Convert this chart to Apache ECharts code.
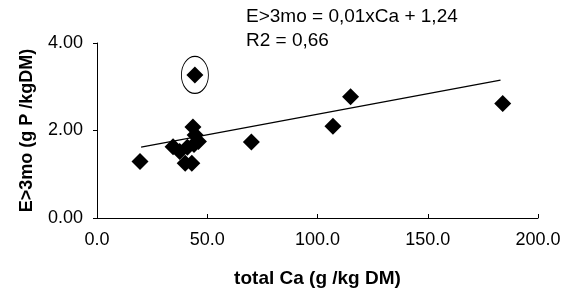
<!DOCTYPE html>
<html>
<head>
<meta charset="utf-8">
<script src="https://cdn.jsdelivr.net/npm/echarts@6/dist/echarts.min.js"></script>
<style>
  html, body { margin: 0; padding: 0; background: #fff; }
  #main { width: 564px; height: 293px; }
</style>
</head>
<body>
<div id="main"></div>
<script>
// total Ca (g/kg DM) vs E>3mo (g P/kg DM)
var caValues = [19.5, 34.5, 37.5, 40.0, 43.0, 41.0, 44.0, 46.0, 43.5, 44.5, 44.4, 70.0, 107.0, 115.0, 184.0];
var eValues  = [1.29, 1.63, 1.52, 1.25, 1.25, 1.62, 1.68, 1.75, 2.08, 1.90, 3.27, 1.74, 2.10, 2.77, 2.62];
// trend line end points
var trendX = [20, 183];
var trendY = [1.62, 3.15];
// outlier circled in the figure
var outlier = [44.4, 3.27];
var xTicks = [0, 50, 100, 150, 200];
var yTicks = [0, 2, 4];

var myChart = echarts.init(document.getElementById('main'));

var points = caValues.map(function (x, i) { return [x, eValues[i]]; });
var trend = trendX.map(function (x, i) { return [x, trendY[i]]; });

var font = 'Liberation Sans, Arial, sans-serif';

var option = {
    backgroundColor: '#ffffff',
    animation: false,
    grid: { left: 97, right: 26, top: 43, bottom: 75, outerBoundsMode: 'none' },
    graphic: [
        {
            type: 'text', left: 246, top: 7,
            style: { text: 'E>3mo = 0,01xCa + 1,24', font: '19px ' + font, fill: '#000' }
        },
        {
            type: 'text', left: 246, top: 31,
            style: { text: 'R2 = 0,66', font: '19px ' + font, fill: '#000' }
        }
    ],
    xAxis: {
        type: 'value',
        min: xTicks[0],
        max: xTicks[xTicks.length - 1],
        interval: 50,
        name: 'total Ca (g /kg DM)',
        nameLocation: 'middle',
        nameGap: 51,
        nameTextStyle: { fontFamily: font, fontWeight: 'bold', fontSize: 19, color: '#000' },
        axisLine: { lineStyle: { color: '#000', width: 1 } },
        axisTick: { inside: true, length: 4, lineStyle: { color: '#000' } },
        splitLine: { show: false },
        axisLabel: {
            fontFamily: font, fontSize: 18, color: '#000', margin: 13,
            formatter: function (v) { return v.toFixed(1); }
        }
    },
    yAxis: {
        type: 'value',
        min: yTicks[0],
        max: yTicks[yTicks.length - 1],
        interval: 2,
        name: 'E>3mo (g P /kgDM)',
        nameLocation: 'middle',
        nameGap: 61,
        nameTextStyle: { fontFamily: font, fontWeight: 'bold', fontSize: 18, color: '#000' },
        axisLine: { show: true, lineStyle: { color: '#000', width: 1 } },
        axisTick: { show: true, length: 4, lineStyle: { color: '#000' } },
        splitLine: { show: false },
        axisLabel: {
            fontFamily: font, fontSize: 18, color: '#000', margin: 14,
            formatter: function (v) { return v.toFixed(2); }
        }
    },
    series: [
        {
            type: 'line',
            data: trend,
            symbol: 'none',
            lineStyle: { color: '#000', width: 1.2 },
            z: 1
        },
        {
            type: 'scatter',
            data: points,
            symbol: 'diamond',
            symbolSize: 17,
            itemStyle: { color: '#000', opacity: 1 },
            z: 3
        },
        {
            type: 'scatter',
            data: [outlier],
            symbol: 'circle',
            symbolSize: [27, 37],
            itemStyle: { color: 'rgba(0,0,0,0)', borderColor: '#000', borderWidth: 1, opacity: 1 },
            z: 2
        }
    ]
};

myChart.setOption(option);
</script>
</body>
</html>
